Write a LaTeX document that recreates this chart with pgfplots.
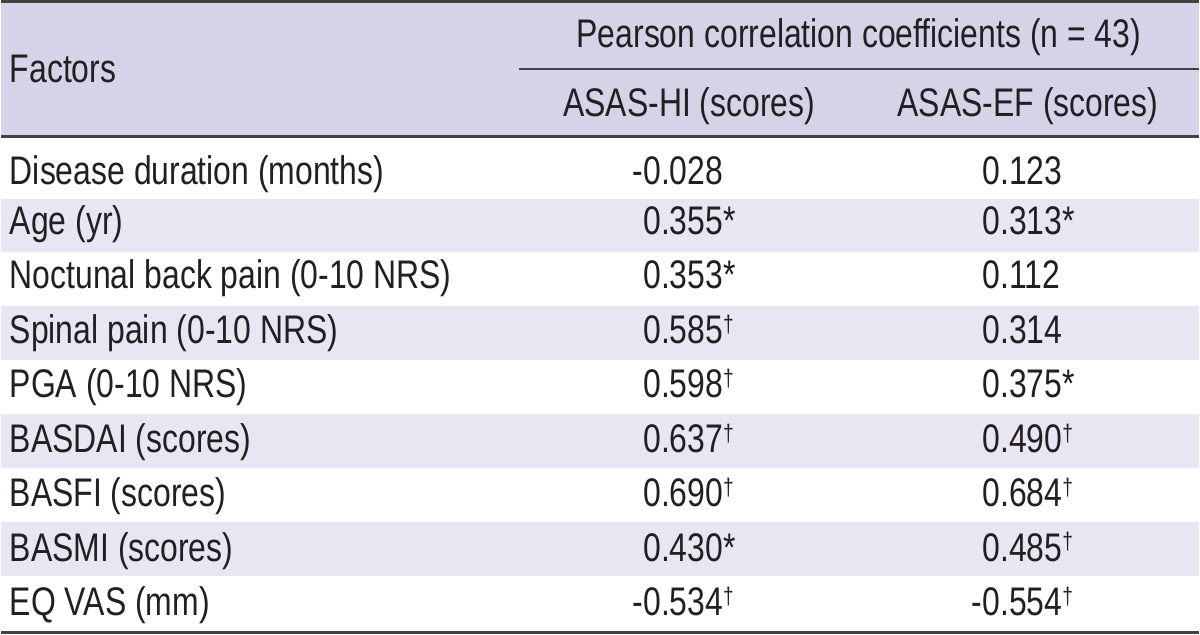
\documentclass[border=0pt]{standalone}
\usepackage{fontspec}
\setmainfont{Liberation Sans}[FakeStretch=0.8]
\usepackage{pgfplots}
\usepackage{pgfplotstable}
\pgfplotsset{compat=1.18}
\definecolor{hdr}{HTML}{D4D3E8}
\definecolor{band}{HTML}{E7E6F2}
\definecolor{ink}{HTML}{231F20}
\DeclareRobustCommand\mn{\llap{-}}
\DeclareRobustCommand\dg{\raisebox{5.6pt}{\fontsize{12}{12}\selectfont †}}

\pgfplotstableread[col sep=comma]{
x,y,label
8,83,Factors
8,185,Disease duration (months)
8,235,Age (yr)
8,289.6,Noctunal back pain (0-10 NRS)
8,344.1,Spinal pain (0-10 NRS)
8,398.7,PGA (0-10 NRS)
8,453.3,BASDAI (scores)
8,507.9,BASFI (scores)
8,562.4,BASMI (scores)
8,617,EQ VAS (mm)
}\leftcells

\pgfplotstableread[col sep=comma]{
x,y,label
859.5,48,Pearson correlation coefficients (n = 43)
689.5,117,ASAS-HI (scores)
1029,117,ASAS-EF (scores)
}\headcells

\pgfplotstableread[col sep=comma]{
x,y,label
643,185,\mn0.028
643,235,0.355*
643,289.6,0.353*
643,344.1,0.585\dg
643,398.7,0.598\dg
643,453.3,0.637\dg
643,507.9,0.690\dg
643,562.4,0.430*
643,617,\mn0.534\dg
}\hicells

\pgfplotstableread[col sep=comma]{
x,y,label
983,185,0.123
983,235,0.313*
983,289.6,0.112
983,344.1,0.314
983,398.7,0.375*
983,453.3,0.490\dg
983,507.9,0.684\dg
983,562.4,0.485\dg
983,617,\mn0.554\dg
}\efcells

\begin{document}
\begin{tikzpicture}
\begin{axis}[
  width=600pt, height=319pt, scale only axis,
  xmin=0, xmax=1200, ymin=0, ymax=638, y dir=reverse,
  hide axis, clip=false,
  every node near coord/.append style={inner sep=0pt, text=ink,
     font=\fontsize{20}{23}\selectfont},
]
% backgrounds
\fill[hdr] (axis cs:0,3) rectangle (axis cs:1200,135);
\fill[band] (axis cs:0,199) rectangle (axis cs:1200,253);
\fill[band] (axis cs:0,307) rectangle (axis cs:1200,361);
\fill[band] (axis cs:0,415) rectangle (axis cs:1200,469);
\fill[band] (axis cs:0,523) rectangle (axis cs:1200,577);
% rules
\draw[ink!85, line width=1.5pt] (axis cs:0,1.5) -- (axis cs:1200,1.5);
\draw[ink!85, line width=1pt] (axis cs:519,69) -- (axis cs:1200,69);
\draw[ink!85, line width=1.5pt] (axis cs:0,136.5) -- (axis cs:1200,136.5);
\draw[ink!85, line width=1.5pt] (axis cs:0,634.5) -- (axis cs:1200,634.5);
% text cells
\addplot[draw=none, mark=none, point meta=explicit symbolic,
  nodes near coords={\pgfplotspointmeta},
  nodes near coords align={anchor=base west}]
  table[x=x, y=y, meta=label]{\leftcells};
\addplot[draw=none, mark=none, point meta=explicit symbolic,
  nodes near coords={\pgfplotspointmeta},
  nodes near coords align={anchor=base}]
  table[x=x, y=y, meta=label]{\headcells};
\addplot[draw=none, mark=none, point meta=explicit symbolic,
  nodes near coords={\pgfplotspointmeta},
  nodes near coords align={anchor=base west}]
  table[x=x, y=y, meta=label]{\hicells};
\addplot[draw=none, mark=none, point meta=explicit symbolic,
  nodes near coords={\pgfplotspointmeta},
  nodes near coords align={anchor=base west}]
  table[x=x, y=y, meta=label]{\efcells};
\end{axis}
\end{tikzpicture}
\end{document}
